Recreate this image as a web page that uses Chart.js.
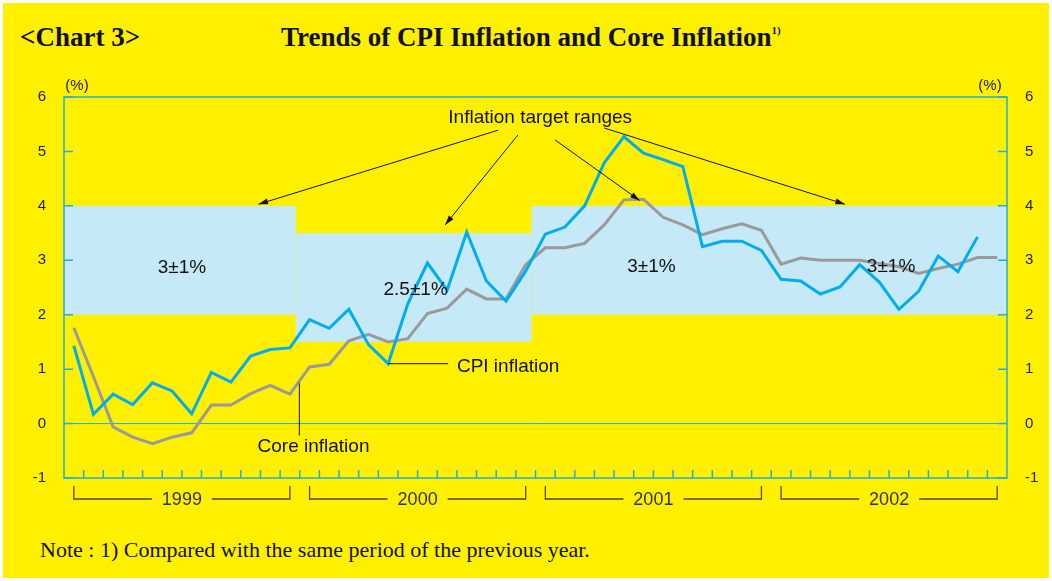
<!DOCTYPE html>
<html>
<head>
<meta charset="utf-8">
<script src="https://cdn.jsdelivr.net/npm/chart.js@4/dist/chart.umd.min.js"></script>
<style>
  html, body { margin: 0; padding: 0; background: #fff; }
  #page { position: absolute; left: 3px; top: 3px; width: 1046px; height: 575px; background: #fff000; }
  #chart { position: absolute; left: 0; top: 0; }
  .serif { position: absolute; font-family: "Liberation Serif", "DejaVu Serif", serif; color: #111; white-space: nowrap; }
  #tag { left: 17px; top: 19px; font-size: 27px; font-weight: bold; }
  #title { left: 278px; top: 19px; font-size: 27px; font-weight: bold; }
  #title sup { font-size: 11px; vertical-align: 12px; }
  #note { left: 37px; top: 534px; font-size: 22px; }
</style>
</head>
<body>
<div id="page">
  <div class="serif" id="tag">&lt;Chart 3&gt;</div>
  <div class="serif" id="title">Trends of CPI Inflation and Core Inflation<sup>1)</sup></div>
  <div class="serif" id="note">Note : 1) Compared with the same period of the previous year.</div>
</div>
<canvas id="chart" width="1052" height="581"></canvas>
<script>
// Monthly year-on-year rates, Jan 1999 - Dec 2002
const years = ['1999', '2000', '2001', '2002'];
const monthNames = ['01', '02', '03', '04', '05', '06', '07', '08', '09', '10', '11', '12'];
const months = years.flatMap(y => monthNames.map(m => y + '.' + m));

const cpiInflation = [
  1.43, 0.17, 0.54, 0.35, 0.75, 0.60, 0.18, 0.94, 0.76, 1.24, 1.36, 1.39,
  1.91, 1.75, 2.10, 1.45, 1.10, 2.20, 2.95, 2.45, 3.52, 2.62, 2.25, 2.80,
  3.48, 3.61, 4.00, 4.79, 5.27, 4.97, 4.85, 4.72, 3.25, 3.35, 3.35, 3.18,
  2.65, 2.62, 2.38, 2.51, 2.92, 2.60, 2.10, 2.43, 3.08, 2.79, 3.43, null,
];
const coreInflation = [
  1.76, 0.86, -0.06, -0.25, -0.37, -0.25, -0.17, 0.34, 0.34, 0.55, 0.70, 0.54,
  1.04, 1.09, 1.52, 1.64, 1.50, 1.56, 2.02, 2.12, 2.47, 2.29, 2.29, 2.92,
  3.23, 3.23, 3.31, 3.65, 4.11, 4.12, 3.79, 3.65, 3.47, 3.58, 3.67, 3.55,
  2.93, 3.04, 3.00, 3.00, 3.00, 2.94, 2.88, 2.76, 2.85, 2.93, 3.05, 3.05,
];
const yTicks = [-1, 0, 1, 2, 3, 4, 5, 6];

// Inflation target ranges (centre ± tolerance) and the months they cover
const targetMid = [3, 2.5, 3];
const targetTol = 1;
const targetStart = [0, 12, 24];
const targetEnd = [11, 23, 47];

const BLUE = '#1eaee0';
const CPI = '#00aeef';
const CORE = '#9a9a9a';
const BAND = '#c6e9f8';
const SANS = '"Liberation Sans", Arial, sans-serif';

function arrow(ctx, x0, y0, x1, y1) {
  const ang = Math.atan2(y1 - y0, x1 - x0);
  ctx.beginPath();
  ctx.moveTo(x0, y0);
  ctx.lineTo(x1, y1);
  ctx.stroke();
  ctx.beginPath();
  ctx.moveTo(x1, y1);
  ctx.lineTo(x1 - 10 * Math.cos(ang - 0.3), y1 - 10 * Math.sin(ang - 0.3));
  ctx.lineTo(x1 - 10 * Math.cos(ang + 0.3), y1 - 10 * Math.sin(ang + 0.3));
  ctx.closePath();
  ctx.fill();
}

const decor = {
  id: 'decor',
  beforeDatasetsDraw(chart) {
    const { ctx, chartArea: a, scales: { x, y } } = chart;
    const half = (x.getPixelForValue(1) - x.getPixelForValue(0)) / 2;
    ctx.save();
    ctx.fillStyle = BAND;
    targetMid.forEach((m, i) => {
      const x0 = i === 0 ? a.left : x.getPixelForValue(targetStart[i]) - half - 4;
      const x1 = i === targetMid.length - 1 ? a.right : x.getPixelForValue(targetEnd[i]) + half - 4;
      const y0 = y.getPixelForValue(m + targetTol);
      const y1 = y.getPixelForValue(m - targetTol);
      ctx.fillRect(x0, y0, x1 - x0, y1 - y0);
    });
    // zero line
    ctx.strokeStyle = BLUE;
    ctx.lineWidth = 1;
    ctx.beginPath();
    ctx.moveTo(a.left, y.getPixelForValue(0));
    ctx.lineTo(a.right, y.getPixelForValue(0));
    ctx.stroke();
    ctx.restore();
  },
  afterDatasetsDraw(chart) {
    const { ctx, chartArea: a, scales: { x, y } } = chart;
    const half = (x.getPixelForValue(1) - x.getPixelForValue(0)) / 2;
    const P = (i, v) => [x.getPixelForValue(i), y.getPixelForValue(v)];
    ctx.save();
    // frame and inward ticks
    ctx.strokeStyle = BLUE;
    ctx.lineWidth = 1.5;
    ctx.strokeRect(a.left, a.top, a.right - a.left, a.bottom - a.top);
    ctx.beginPath();
    yTicks.forEach(v => {
      const py = y.getPixelForValue(v);
      ctx.moveTo(a.left, py); ctx.lineTo(a.left + 9, py);
      ctx.moveTo(a.right, py); ctx.lineTo(a.right - 9, py);
    });
    for (let i = 1; i < months.length; i++) {
      const px = x.getPixelForValue(i) - half;
      ctx.moveTo(px, a.bottom); ctx.lineTo(px, a.bottom - 8);
    }
    ctx.stroke();

    // year brackets
    ctx.strokeStyle = '#4a4a30';
    ctx.lineWidth = 1.3;
    ctx.fillStyle = '#333';
    ctx.font = '18px ' + SANS;
    ctx.textAlign = 'center';
    ctx.textBaseline = 'middle';
    const by = a.bottom + 21;
    years.forEach((yr, j) => {
      const x0 = x.getPixelForValue(j * 12);
      const x1 = x.getPixelForValue(j * 12 + 11);
      const cx = (x0 + x1) / 2;
      const w = ctx.measureText(yr).width / 2 + 10;
      ctx.beginPath();
      ctx.moveTo(x0, a.bottom + 8); ctx.lineTo(x0, by); ctx.lineTo(cx - w, by);
      ctx.moveTo(cx + w, by); ctx.lineTo(x1, by); ctx.lineTo(x1, a.bottom + 8);
      ctx.stroke();
      ctx.fillText(yr, cx, by + 1);
    });

    // unit labels
    ctx.font = '15px ' + SANS;
    ctx.fillStyle = '#222';
    ctx.textBaseline = 'alphabetic';
    ctx.fillText('(%)', a.left + 13, a.top - 7);
    ctx.fillText('(%)', a.right - 17, a.top - 7);

    // target range labels
    ctx.fillStyle = '#111';
    ctx.font = '19px ' + SANS;
    ctx.textBaseline = 'middle';
    ctx.fillText('3±1%', ...P(5.5, 2.87));
    ctx.fillText('2.5±1%', ...P(17.4, 2.45));
    ctx.fillText('3±1%', ...P(29.4, 2.89));
    ctx.fillText('3±1%', ...P(41.6, 2.89));

    // "Inflation target ranges" with arrows
    ctx.fillText('Inflation target ranges', ...P(23.74, 5.61));
    ctx.strokeStyle = '#111';
    ctx.fillStyle = '#111';
    ctx.lineWidth = 1;
    arrow(ctx, ...P(21.6, 5.39), ...P(9.4, 4.03));
    arrow(ctx, ...P(22.6, 5.30), ...P(18.9, 3.65));
    arrow(ctx, ...P(24.5, 5.21), ...P(28.8, 4.10));
    arrow(ctx, ...P(27.0, 5.43), ...P(39.25, 4.03));

    // series labels
    ctx.font = '19px ' + SANS;
    ctx.textAlign = 'left';
    ctx.beginPath();
    ctx.moveTo(...P(16.0, 1.10)); ctx.lineTo(...P(19.05, 1.10));
    ctx.moveTo(...P(11.48, 0.74)); ctx.lineTo(...P(11.48, -0.22));
    ctx.stroke();
    ctx.fillText('CPI inflation', ...P(19.5, 1.05));
    ctx.fillText('Core inflation', ...P(9.35, -0.43));
    ctx.restore();
  },
};

new Chart(document.getElementById('chart'), {
  type: 'line',
  data: {
    labels: months,
    datasets: [
      { label: 'CPI inflation', data: cpiInflation, borderColor: CPI, borderWidth: 3, yAxisID: 'y' },
      { label: 'Core inflation', data: coreInflation, borderColor: CORE, borderWidth: 3, yAxisID: 'y' },
    ],
  },
  options: {
    responsive: false,
    animation: false,
    events: [],
    layout: { padding: { top: 97, left: 0, right: 0, bottom: 0 } },
    elements: { point: { radius: 0 }, line: { tension: 0, borderJoinStyle: 'miter' } },
    plugins: { legend: { display: false }, tooltip: { enabled: false } },
    scales: {
      x: {
        offset: true,
        grid: { display: false },
        border: { display: false },
        ticks: { display: false },
        afterFit: s => { s.height = 103; },
      },
      y: {
        position: 'left',
        min: -1, max: 6,
        afterBuildTicks: s => { s.ticks = yTicks.map(v => ({ value: v })); },
        grid: { display: false },
        border: { display: false },
        ticks: { color: '#222', font: { family: SANS, size: 15 }, padding: 10 },
        afterFit: s => { s.width = 64; },
      },
      y2: {
        position: 'right',
        min: -1, max: 6,
        afterBuildTicks: s => { s.ticks = yTicks.map(v => ({ value: v })); },
        grid: { display: false },
        border: { display: false },
        ticks: { color: '#222', font: { family: SANS, size: 15 }, padding: 10 },
        afterFit: s => { s.width = 45; },
      },
    },
  },
  plugins: [decor],
});
</script>
</body>
</html>
